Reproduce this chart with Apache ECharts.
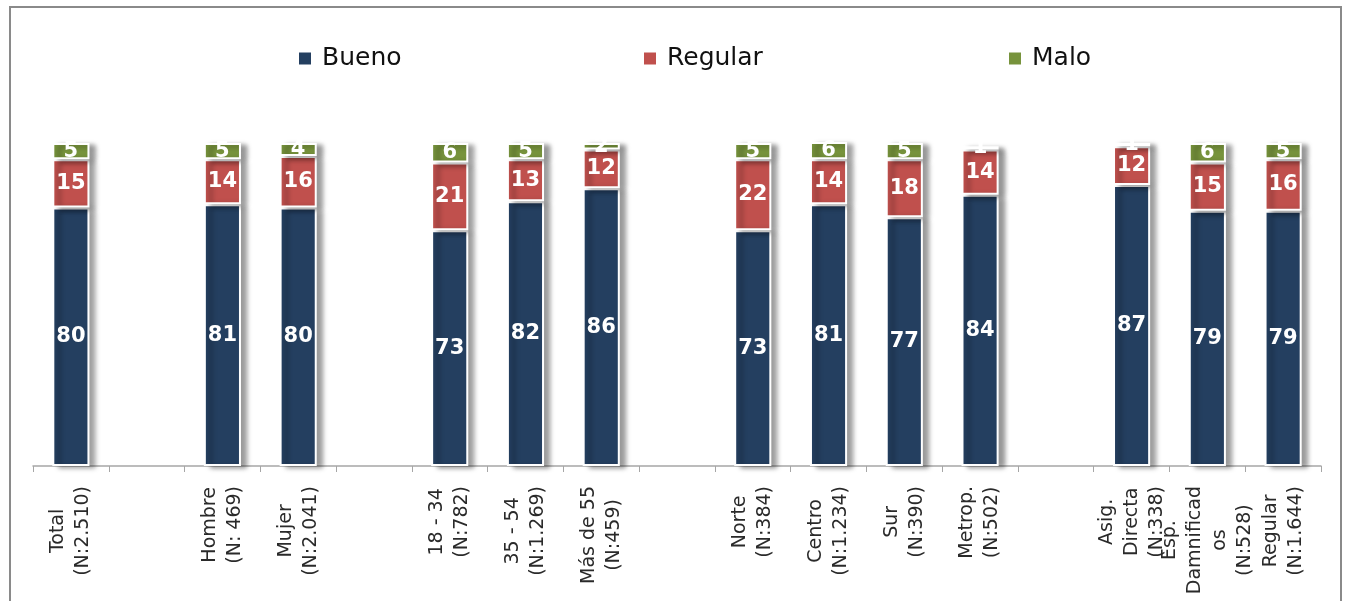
<!DOCTYPE html>
<html>
<head>
<meta charset="utf-8">
<script src="https://cdn.jsdelivr.net/npm/echarts@6/dist/echarts.min.js"></script>
<style>
  html, body { margin: 0; padding: 0; background: #fff; overflow: hidden; }
  #chart { position: absolute; left: 0; top: 0; width: 1348px; height: 601px; }
  #frame { position: absolute; left: 9px; top: 6px; width: 1329px; height: 700px; border: 2px solid #8a8a8a; pointer-events: none; }
</style>
</head>
<body>
<div id="frame"></div>
<div id="chart"></div>
<script>
const categories = [
  'Total\n(N:2.510)', '',
  'Hombre\n(N: 469)', 'Mujer\n(N:2.041)', '',
  '18 - 34\n(N:782)', '35 - 54\n(N:1.269)', 'Más de 55\n(N:459)', '',
  'Norte\n(N:384)', 'Centro\n(N:1.234)', 'Sur\n(N:390)', 'Metrop.\n(N:502)', '',
  'Asig.\nDirecta\n(N:338)', 'Esp.\nDamnificad\nos\n(N:528)', 'Regular\n(N:1.644)'
];
const seriesNames = ['Bueno', 'Regular', 'Malo'];
const bueno   = [80, null, 81, 80, null, 73, 82, 86, null, 73, 81, 77, 84, null, 87, 79, 79];
const regular = [15, null, 14, 16, null, 21, 13, 12, null, 22, 14, 18, 14, null, 12, 15, 16];
const malo    = [5,  null, 5,  4,  null, 6,  5,  2,  null, 5,  6,  5,  1,  null, 1,  6,  5];
const colors = ['#243F60', '#C0504D', '#77933C'];

const chart = echarts.init(document.getElementById('chart'));
const valuesList = [bueno, regular, malo];

function legendAt(name, left) {
  return {
    data: [name], left: left, top: 41, icon: 'rect', itemWidth: 14, itemHeight: 14,
    textStyle: { fontFamily: 'DejaVu Sans', fontSize: 25, color: '#111', padding: [0, 0, 0, 5] }
  };
}

chart.setOption({
  animation: false,
  color: colors,
  legend: [legendAt('Bueno', 292), legendAt('Regular', 637), legendAt('Malo', 1002)],
  grid: { left: 33, right: 27, top: 143, bottom: 135, containLabel: false },
  xAxis: {
    type: 'category',
    data: categories,
    axisLine: { lineStyle: { color: '#a6a6a6', width: 1.5 } },
    axisTick: { show: true, length: 6, lineStyle: { color: '#a6a6a6' } },
    axisLabel: {
      interval: 0, rotate: 90, margin: 20,
      fontFamily: 'DejaVu Sans', fontSize: 19, color: '#2a2a2a', lineHeight: 25,
      formatter: function (v) {
        if (!v) return '';
        return v.split('\n').map(l => '{c|' + l + '}').join('\n');
      },
      rich: { c: { align: 'center', fontFamily: 'DejaVu Sans', fontSize: 19, color: '#2a2a2a', lineHeight: 25 } }
    }
  },
  yAxis: { type: 'value', min: 0, max: 100, show: false, splitLine: { show: false } },
  series: seriesNames.map((name, i) => ({
    name: name,
    type: 'bar',
    stack: 'total',
    barWidth: '49%',
    data: valuesList[i],
    itemStyle: {
      color: colors[i], borderColor: '#fff', borderWidth: 2,
      shadowColor: 'rgba(0,0,0,0.4)', shadowBlur: 5, shadowOffsetX: 6, shadowOffsetY: 2
    },
    label: {
      show: true, position: 'inside', color: '#fff',
      fontFamily: 'DejaVu Sans', fontWeight: 'bold', fontSize: 21,
      formatter: p => (p.value == null ? '' : p.value)
    }
  }))
});
</script>
</body>
</html>
